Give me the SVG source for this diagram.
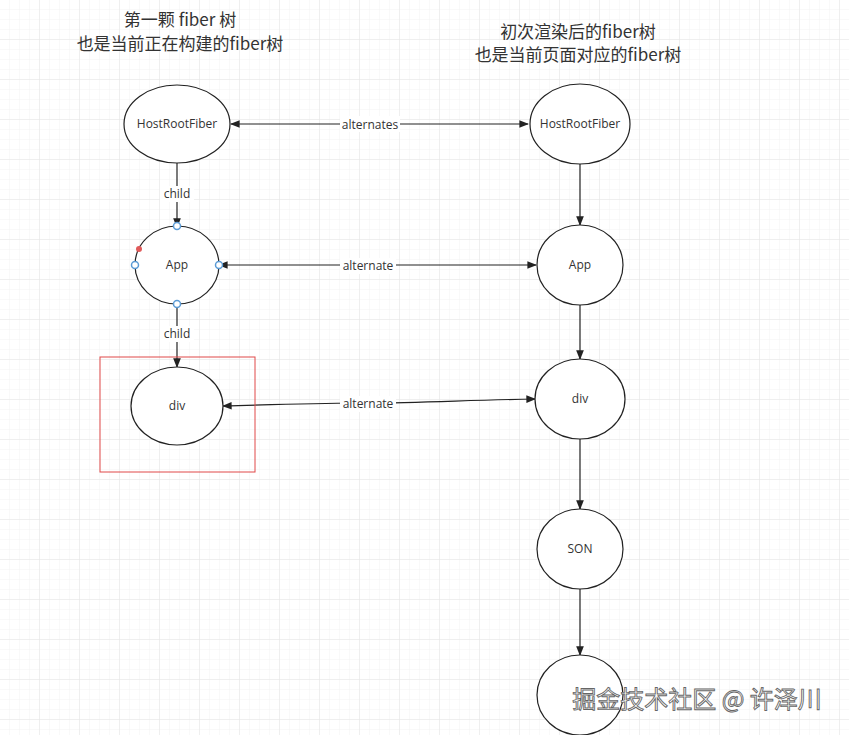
<svg xmlns="http://www.w3.org/2000/svg" width="849" height="735" viewBox="0 0 849 735">
<defs>
<pattern id="g1" width="10" height="10" patternUnits="userSpaceOnUse"><path d="M10 0V10H0" fill="none" stroke="#f3f3f3" stroke-width="1"/></pattern>
<pattern id="g2" width="40" height="40" patternUnits="userSpaceOnUse"><rect width="40" height="40" fill="url(#g1)"/><path d="M40 0V40H0" fill="none" stroke="#e6e6e6" stroke-width="1"/></pattern>
<marker id="a" viewBox="0 0 10 10" refX="9" refY="5" markerWidth="8" markerHeight="8" orient="auto-start-reverse"><path d="M0 1L10 5L0 9z" fill="#222"/></marker>
<style>
.n{fill:#fff;stroke:#222;stroke-width:1.2}
.t{font-family:"Open Sans","Liberation Sans",sans-serif;font-size:12px;fill:#333;text-anchor:middle}
.c{stroke:#222;stroke-width:1.2;fill:none}
.h{font-family:"Noto Sans CJK SC",sans-serif;font-size:17px;fill:#333;text-anchor:middle}
.p{fill:#fff;stroke:#5b9bd5;stroke-width:1.5}
</style>
</defs>
<rect width="849" height="735" fill="#fff"/>
<rect width="849" height="735" fill="url(#g2)"/>
<text class="h" x="180" y="26">第一颗 fiber 树</text>
<text class="h" x="180" y="50">也是当前正在构建的fiber树</text>
<text class="h" x="578" y="38">初次渲染后的fiber树</text>
<text class="h" x="578" y="61">也是当前页面对应的fiber树</text>
<g id="connectors">
<path class="c" d="M231 124H528" marker-start="url(#a)" marker-end="url(#a)"/>
<rect x="340" y="116" width="60" height="16" fill="#fff"/><text class="t" x="370" y="129">alternates</text>
<path class="c" d="M177 163V227" marker-end="url(#a)"/>
<rect x="160" y="186" width="34" height="16" fill="#fff"/><text class="t" x="177" y="198">child</text>
<path class="c" d="M219 265H536" marker-start="url(#a)" marker-end="url(#a)"/>
<rect x="340" y="258" width="56" height="16" fill="#fff"/><text class="t" x="368" y="270">alternate</text>
<path class="c" d="M177 304V367" marker-end="url(#a)"/>
<rect x="160" y="326" width="34" height="16" fill="#fff"/><text class="t" x="177" y="338">child</text>
<path class="c" d="M223 406C300 404 320 403 368 403C420 403 470 400 535 399" marker-start="url(#a)" marker-end="url(#a)"/>
<rect x="340" y="396" width="56" height="16" fill="#fff"/><text class="t" x="368" y="408">alternate</text>
<path class="c" d="M580 164V225" marker-end="url(#a)"/>
<path class="c" d="M580 305V359" marker-end="url(#a)"/>
<path class="c" d="M580 439V509" marker-end="url(#a)"/>
<path class="c" d="M580 589V655" marker-end="url(#a)"/>
</g>
<g id="hrf1"><ellipse class="n" cx="177" cy="124" rx="53" ry="39"/><text class="t" x="177" y="128">HostRootFiber</text></g>
<g id="app1"><ellipse class="n" cx="177" cy="265" rx="42" ry="39"/><text class="t" x="177" y="269">App</text>
<circle class="p" cx="177" cy="226" r="3.5"/><circle class="p" cx="177" cy="304" r="3.5"/><circle class="p" cx="135" cy="265" r="3.5"/><circle class="p" cx="219" cy="265" r="3.5"/><circle cx="139" cy="249" r="3" fill="#e05a5a"/></g>
<g id="div1"><ellipse class="n" cx="177" cy="406" rx="46" ry="39"/><text class="t" x="177" y="410">div</text>
<rect x="100" y="357" width="155" height="115" fill="none" stroke="#e04848" stroke-width="1"/></g>
<g id="hrf2"><ellipse class="n" cx="580" cy="124" rx="50" ry="40"/><text class="t" x="580" y="128">HostRootFiber</text></g>
<g id="app2"><ellipse class="n" cx="580" cy="265" rx="43" ry="40"/><text class="t" x="580" y="269">App</text></g>
<g id="div2"><ellipse class="n" cx="580" cy="399" rx="45" ry="40"/><text class="t" x="580" y="403">div</text></g>
<g id="son"><ellipse class="n" cx="580" cy="549" rx="43" ry="40"/><text class="t" x="580" y="553">SON</text></g>
<g id="last"><ellipse class="n" cx="580" cy="695" rx="43" ry="40"/></g>
<text x="697" y="708" font-family="Noto Sans CJK SC,sans-serif" font-size="24" fill="#fff" stroke="#666" stroke-width="0.9" text-anchor="middle">掘金技术社区 @ 许泽川</text>
</svg>
